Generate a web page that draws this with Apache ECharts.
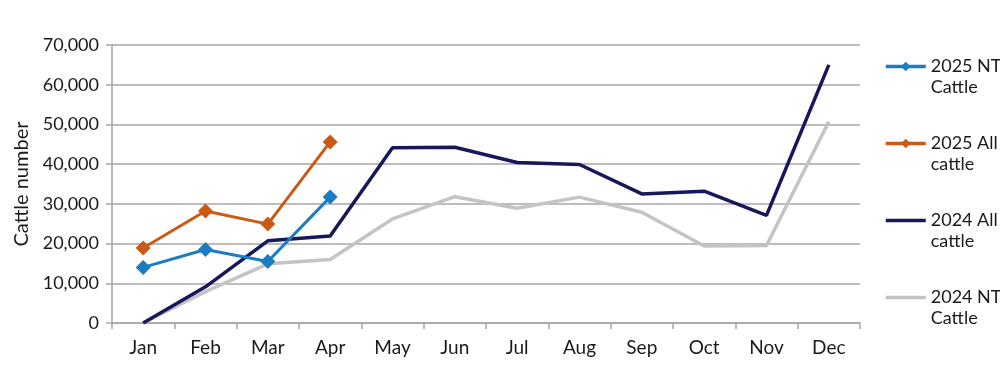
<!DOCTYPE html>
<html><head><meta charset="utf-8">
<script src="https://cdn.jsdelivr.net/npm/echarts@6/dist/echarts.min.js"></script>
<style>html,body{margin:0;padding:0;background:#fff}#c{width:1000px;height:372px}</style>
</head><body><div id="c"></div>
<script>
const months = ['Jan','Feb','Mar','Apr','May','Jun','Jul','Aug','Sep','Oct','Nov','Dec'];
const nt2025 = [14000, 18500, 15500, 31700];
const all2025 = [18900, 28200, 24900, 45600];
const all2024 = [0, 9100, 20700, 21900, 44100, 44250, 40400, 39900, 32500, 33200, 27100, 65000];
const nt2024 = [0, 7900, 14900, 16000, 26200, 31800, 28900, 31700, 27900, 19400, 19500, 50700];
const yTicks = [0, 10000, 20000, 30000, 40000, 50000, 60000, 70000];

const chart = echarts.init(document.getElementById('c'), null, {renderer:'canvas'});
const font = 'Lato, "Open Sans", sans-serif';
const lineIcon = 'path://M0,0h0.05v0.05h-0.05z M0,4.2h40v3.6h-40z M39.95,11.95h0.05v0.05h-0.05z';
chart.setOption({
  animation: false,
  textStyle: {fontFamily: font},
  grid: {left: 112, right: 140, top: 45, bottom: 49},
  legend: {
    orient: 'vertical', left: 884, top: 35, itemGap: 14, padding: 0,
    itemWidth: 40, itemHeight: 12,
    lineStyle: {width: 3.5},
    textStyle: {fontFamily: font, fontSize: 18, color: '#1a1a1a', lineHeight: 21},
    formatter: n => ' \n' + n.replace(/^(\d+ \w+) /, '$1\n'),
    data: [
      {name: '2025 NT Cattle'},
      {name: '2025 All cattle'},
      {name: '2024 All cattle', icon: lineIcon},
      {name: '2024 NT Cattle', icon: lineIcon}
    ]
  },
  xAxis: {
    type: 'category', data: months, boundaryGap: true,
    axisLine: {lineStyle: {color: '#a6a6a6', width: 1.5}},
    axisTick: {show: true, length: 6, lineStyle: {color: '#a6a6a6', width: 1.5}},
    axisLabel: {fontSize: 19, color: '#1a1a1a', margin: 15, fontFamily: font}
  },
  yAxis: {
    type: 'value', min: yTicks[0], max: yTicks[yTicks.length-1], interval: 10000,
    name: 'Cattle number', nameLocation: 'middle', nameGap: 72, nameRotate: 90,
    nameTextStyle: {fontSize: 20, color: '#1a1a1a', fontFamily: font},
    axisLine: {show: true, lineStyle: {color: '#a6a6a6', width: 1.5}},
    axisTick: {show: true, length: 6, lineStyle: {color: '#a6a6a6', width: 1.5}},
    splitLine: {lineStyle: {color: '#a6a6a6', width: 1.5}},
    axisLabel: {fontSize: 18, color: '#1a1a1a', margin: 13, fontFamily: font,
      formatter: v => v.toLocaleString('en-US')}
  },
  series: [
    {name: '2025 NT Cattle', type: 'line', data: nt2025, symbol: 'diamond', symbolSize: 15,
     lineStyle: {width: 3, color: '#1c7cc2'}, itemStyle: {color: '#1c7cc2'}, z: 4},
    {name: '2025 All cattle', type: 'line', data: all2025, symbol: 'diamond', symbolSize: 15,
     lineStyle: {width: 3, color: '#c95b17'}, itemStyle: {color: '#c95b17'}, z: 4},
    {name: '2024 All cattle', type: 'line', data: all2024, symbol: 'none', showSymbol: false,
     lineStyle: {width: 3.5, color: '#17175a'}, itemStyle: {color: '#17175a'}, z: 3},
    {name: '2024 NT Cattle', type: 'line', data: nt2024, symbol: 'none', showSymbol: false,
     lineStyle: {width: 3.5, color: '#c4c4c4'}, itemStyle: {color: '#c4c4c4'}, z: 2}
  ]
});
</script></body></html>
